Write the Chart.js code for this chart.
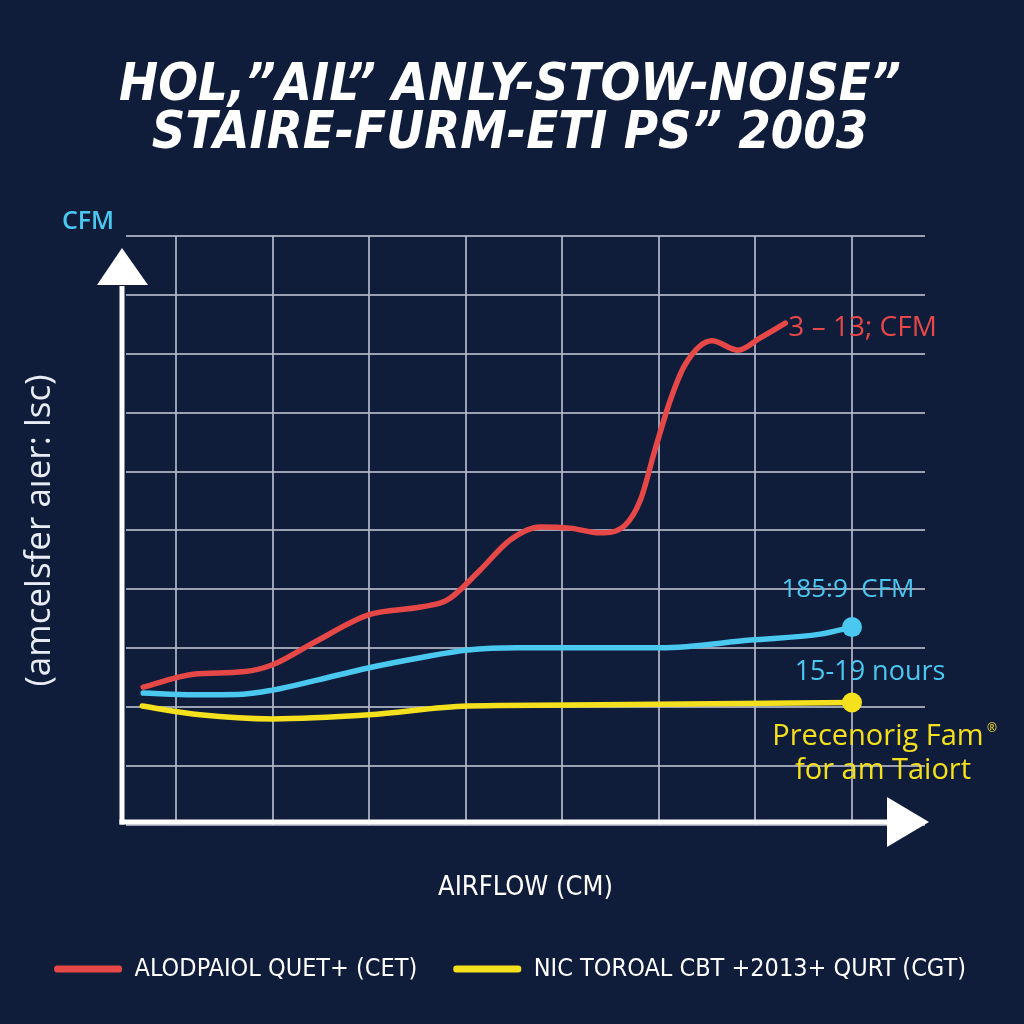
<!DOCTYPE html>
<html><head><meta charset="utf-8">
<script src="https://cdn.jsdelivr.net/npm/chart.js@4.4.1/dist/chart.umd.min.js"></script>
<style>html,body{margin:0;padding:0;background:#0f1c3a}#wrap{width:1024px;height:1024px;position:relative}</style>
</head><body><div id="wrap"><canvas id="c"></canvas></div>
<script>
// ---- text ----
const titleLines = ['HOL,\u201DAIL\u201D ANLY-STOW-NOISE\u201D', 'STAIRE-FURM-ETI PS\u201D 2003'];
const xAxisTitle = 'AIRFLOW (CM)';
const yAxisTitle = '(amcelsfer a\u0131er: lsc)';
const yUnitLabel = 'CFM';
const seriesNames = ['ALODPAIOL QUET+ (CET)', '185:9 CFM', 'NIC TOROAL CBT +2013+ QURT (CGT)'];
const redNote = '3 \u2013 13; CFM';
const blueNotes = ['185:9  CFM', '15-19 nours'];
const yellowNotes = ['Precenorig Fam', 'for am Taiort'];

// ---- data (x = airflow position, y = level) ----
const redX = [0.66,1.18,1.69,2.00,2.42,3.00,3.53,3.81,4.15,4.46,4.77,5.08,5.39,5.65,5.81,5.96,6.12,6.27,6.55,6.82,7.05,7.31];
const redY = [2.34,2.56,2.60,2.72,3.09,3.57,3.70,3.82,4.33,4.84,5.06,5.04,4.96,5.09,5.52,6.37,7.22,7.81,8.22,8.06,8.27,8.52];
const blueX = [0.66,1.18,1.69,2.00,2.46,3.00,3.53,4.02,4.53,5.39,6.02,6.95,7.67,8.00];
const blueY = [2.24,2.21,2.22,2.29,2.46,2.67,2.84,2.97,3.01,3.01,3.01,3.14,3.24,3.36];
const yellowX = [0.65,1.25,2.00,3.00,4.02,5.39,8.00];
const yellowY = [2.02,1.87,1.80,1.87,2.02,2.04,2.08];

const RED = '#e64848', CYAN = '#4ac8f0', YELLOW = '#f5e01e', BG = '#0f1c3a', GRID = 'rgba(178,184,200,0.85)';
const NARROW = '"Liberation Sans Narrow", "DejaVu Sans Condensed", "Roboto", sans-serif';
const SANS = '"Open Sans", "Noto Sans", "DejaVu Sans", sans-serif';

const pts = (xs, ys) => xs.map((x, i) => ({x, y: ys[i]}));
const endRadius = (n, r) => Array.from({length: n}, (_, i) => i === n - 1 ? r : 0);

const deco = {
  id: 'deco',
  beforeDraw(chart) {
    const c = chart.ctx;
    c.save(); c.fillStyle = BG; c.fillRect(0, 0, chart.width, chart.height); c.restore();
  },
  beforeDatasetsDraw(chart) {
    const c = chart.ctx, a = chart.chartArea;
    const ax = a.left - 4, ay = a.bottom - 3;
    c.save();
    c.strokeStyle = '#ffffff'; c.fillStyle = '#ffffff'; c.lineWidth = 5; c.lineCap = 'butt';
    c.beginPath(); c.moveTo(ax, ay + 2.5); c.lineTo(ax, a.top + 50); c.stroke();
    c.beginPath(); c.moveTo(ax - 2.5, ay); c.lineTo(a.right - 36, ay); c.stroke();
    // y arrow head
    c.beginPath(); c.moveTo(ax, a.top + 12); c.lineTo(ax - 25, a.top + 49); c.lineTo(ax + 26, a.top + 49); c.closePath(); c.fill();
    // x arrow head
    c.beginPath(); c.moveTo(a.right + 4, ay); c.lineTo(a.right - 38, ay - 25); c.lineTo(a.right - 38, ay + 25); c.closePath(); c.fill();
    // unit label
    c.fillStyle = CYAN; c.font = '600 25px ' + SANS; c.textAlign = 'center'; c.textBaseline = 'middle';
    c.fillText(yUnitLabel, a.left - 38, a.top - 14);
    c.restore();
  },
  afterDatasetsDraw(chart) {
    const c = chart.ctx;
    const last = i => { const d = chart.getDatasetMeta(i).data; return d[d.length - 1]; };
    const r = last(0), b = last(1), y = last(2);
    c.save();
    c.textBaseline = 'middle';
    c.fillStyle = RED; c.font = '28px ' + SANS; c.textAlign = 'left';
    c.fillText(redNote, r.x + 3, r.y + 5);
    c.fillStyle = CYAN; c.textAlign = 'center';
    c.font = '26px ' + SANS; c.fillText(blueNotes[0], b.x - 4, b.y - 37);
    c.font = '27px ' + SANS; c.fillText(blueNotes[1], b.x + 18, b.y + 45);
    c.fillStyle = YELLOW; c.font = '29px ' + SANS;
    c.fillText(yellowNotes[0], y.x + 26, y.y + 34);
    c.fillText(yellowNotes[1], y.x + 31, y.y + 68);
    c.font = '12px ' + SANS; c.fillText('\u00AE', y.x + 140, y.y + 26);
    c.restore();
  }
};

const lineDs = (label, data, color, r) => ({
  label, data, borderColor: color, backgroundColor: color, borderWidth: 5.5,
  pointRadius: endRadius(data.length, r), pointHoverRadius: endRadius(data.length, r),
  pointBackgroundColor: color, pointBorderWidth: 0,
  cubicInterpolationMode: 'monotone', fill: false, borderCapStyle: 'round', borderJoinStyle: 'round'
});

new Chart(document.getElementById('c'), {
  type: 'line',
  data: {
    datasets: [
      lineDs(seriesNames[0], pts(redX, redY), RED, 0),
      lineDs(seriesNames[1], pts(blueX, blueY), CYAN, 10),
      lineDs(seriesNames[2], pts(yellowX, yellowY), YELLOW, 10)
    ]
  },
  options: {
    responsive: true, maintainAspectRatio: false, animation: false,
    layout: {padding: {top: 10, left: 10, right: 14, bottom: 32.5}},
    plugins: {
      tooltip: {enabled: false},
      title: {
        display: true, text: titleLines, color: '#ffffff',
        font: {family: NARROW, size: 52, weight: 'bold', style: 'italic', lineHeight: 0.942},
        padding: {top: 51.5, bottom: 76.5}
      },
      legend: {
        position: 'bottom',
        labels: {
          color: '#ffffff', font: {family: NARROW, size: 25}, boxWidth: 68, boxHeight: 7, padding: 36,
          generateLabels: chart => Chart.defaults.plugins.legend.labels.generateLabels(chart)
            .filter(it => it.datasetIndex !== 1)
            .map(it => Object.assign(it, {fillStyle: it.strokeStyle, lineWidth: 0, borderRadius: 3}))
        }
      }
    },
    scales: {
      x: {
        type: 'linear', min: 0.482, max: 8.756,
        ticks: {display: false, stepSize: 1, includeBounds: false},
        grid: {color: GRID, lineWidth: 2, drawTicks: false},
        border: {display: false},
        title: {display: true, text: xAxisTitle, color: '#ffffff', font: {family: NARROW, size: 27, lineHeight: 1.2}, padding: {top: 46.6, bottom: 16.5}}
      },
      y: {
        type: 'linear', min: 0, max: 10,
        ticks: {display: false, stepSize: 1},
        grid: {color: GRID, lineWidth: 2, drawTicks: false},
        border: {display: false},
        title: {display: true, text: yAxisTitle, color: '#e8ecf4', font: {family: SANS, size: 35, lineHeight: 1.2}, padding: {top: 9, bottom: 65}}
      },
      y2: {
        type: 'linear', position: 'right', display: true,
        ticks: {display: false}, grid: {display: false, drawTicks: false}, border: {display: false},
        afterFit: s => { s.width = 85; }
      }
    }
  },
  plugins: [deco]
});
</script>
</body></html>
